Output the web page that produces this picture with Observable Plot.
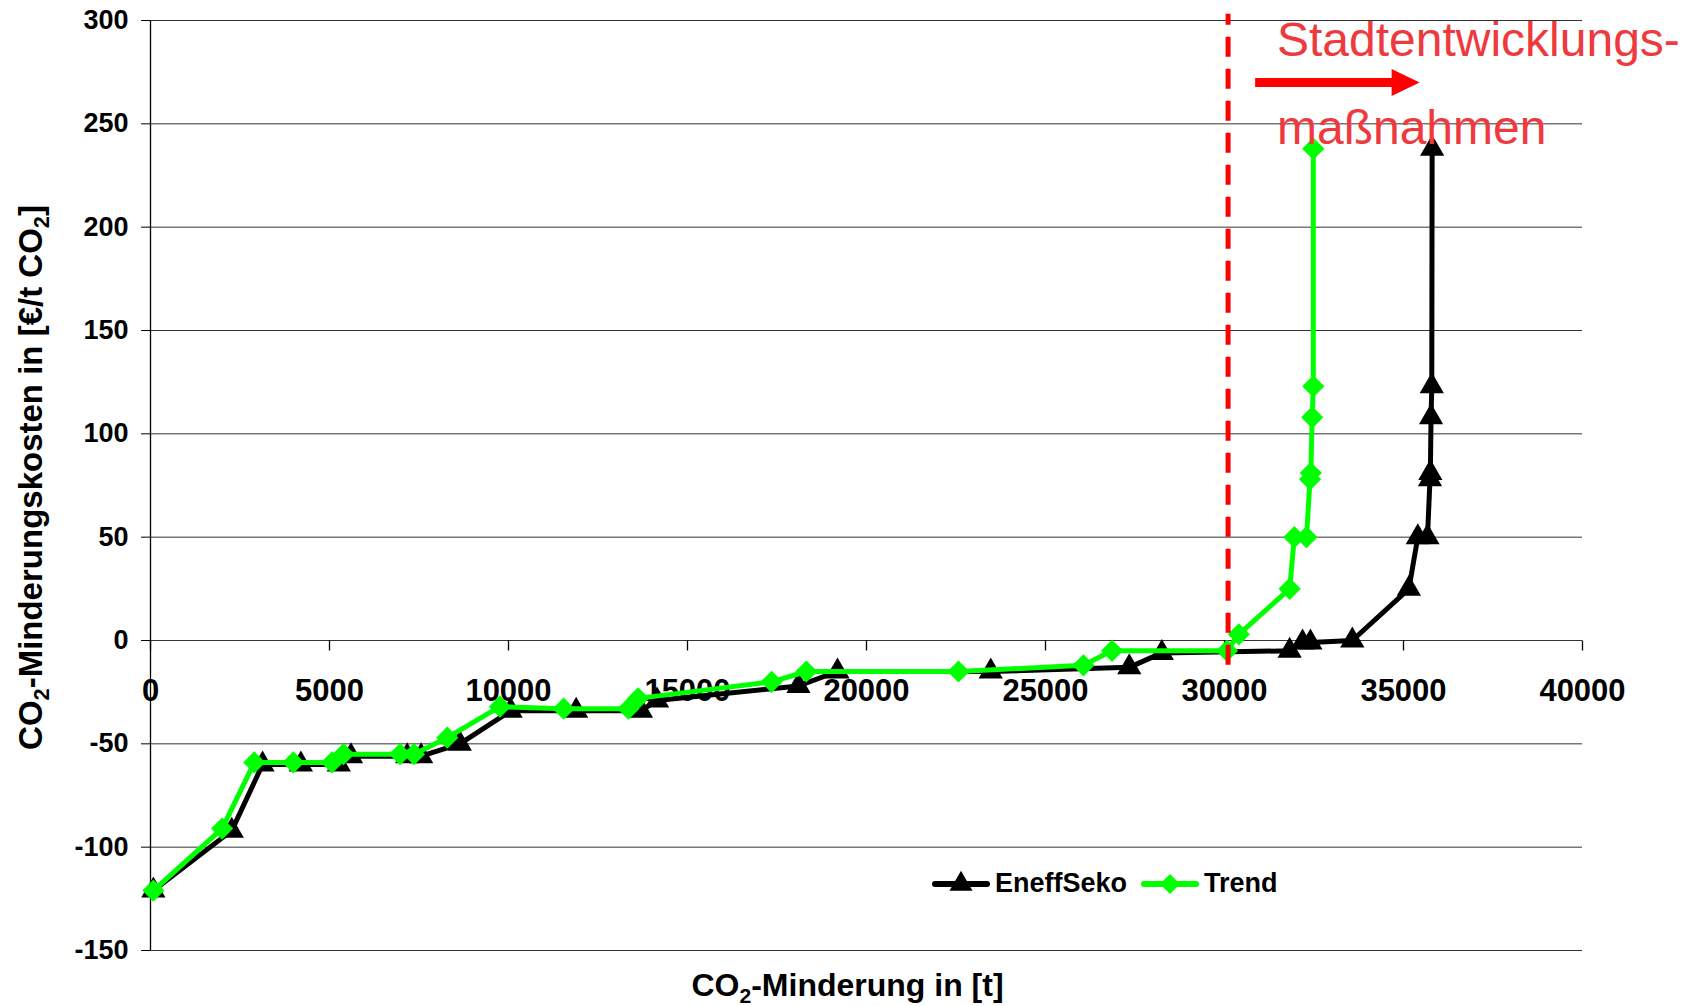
<!DOCTYPE html>
<html>
<head>
<meta charset="utf-8">
<script src="https://cdn.jsdelivr.net/npm/d3@7"></script>
<script src="https://cdn.jsdelivr.net/npm/@observablehq/plot@0.6"></script>
<style>
  html, body { margin: 0; padding: 0; background: #fff; }
  #wrap { position: relative; width: 1692px; height: 1006px; font-family: "Liberation Sans", Arial, Helvetica, sans-serif; }
  #legend { position: absolute; left: 932px; top: 868px; display: flex; align-items: center; font-weight: bold; font-size: 27px; color: #000; white-space: nowrap; }
  #legend svg { display: block; }
</style>
</head>
<body>
<div id="wrap"></div>
<script>
// ---- data ----
const eneffX = [80, 2270, 3130, 4200, 5260, 5600, 7170, 7560, 8640, 10060, 11890, 13700, 14150, 18100, 19190, 23470, 27340, 28250, 31820, 32180, 32400, 33570, 35150, 35400, 35670, 35740, 35750, 35770, 35790, 35800];
const eneffY = [-121, -92, -60, -60, -60, -56, -56, -56, -50, -34, -34, -34, -29, -22, -15, -15, -13, -6, -5, -1, -1, 0, 25, 50, 50, 78, 81, 108, 123, 238];
const trendX = [80, 2000, 2900, 3990, 5070, 5390, 6970, 7360, 8290, 9760, 11540, 13350, 13620, 17350, 18320, 22570, 26060, 26860, 30070, 30400, 31820, 31950, 32290, 32390, 32410, 32450, 32480, 32480];
const trendY = [-121, -91, -59, -59, -59, -55, -55, -55, -47, -32, -33, -33, -28, -20, -15, -15, -12, -5, -5, 3, 25, 50, 50, 78, 81, 108, 123, 238];
const seriesNames = ["EneffSeko", "Trend"];
const xTicks = [0, 5000, 10000, 15000, 20000, 25000, 30000, 35000, 40000];
const yTicks = [-150, -100, -50, 0, 50, 100, 150, 200, 250, 300];
const xTitle = "CO2-Minderung in [t]";
const yTitle = "CO2-Minderungskosten in [€/t CO2]";
const noteLines = ["Stadtentwicklungs-", "maßnahmen"];
const noteX = 31465;
const noteY = [282.7, 240.1];
const dividerX = 30100;
const dividerY = [-12, 303];
const arrowX = [30870, 35450];
const arrowY = 270;

// ---- build ----
const eneff = eneffX.map((x, i) => ({x, y: eneffY[i]}));
const trend = trendX.map((x, i) => ({x, y: trendY[i]}));
const BLACK = "#000000", GREEN = "#00ff00", RED = "#ff0000", NOTE = "#ee3a3e";

const tickDown = {draw(ctx) { ctx.moveTo(0, 0); ctx.lineTo(0, 10); }};
const arrowHead = {draw(ctx) { ctx.moveTo(0, 0); ctx.lineTo(-28, -13.5); ctx.lineTo(-28, 13.5); ctx.closePath(); }};

const chart = Plot.plot({
  width: 1692,
  height: 1006,
  marginLeft: 150,
  marginRight: 110,
  marginTop: 20,
  marginBottom: 56,
  x: {domain: [0, 40000], axis: null},
  y: {domain: [-150, 300]},
  style: {fontFamily: "Liberation Sans, Arial, Helvetica, sans-serif", color: "#000", background: "#fff", overflow: "visible"},
  marks: [
    Plot.gridY(yTicks, {stroke: "#333", strokeOpacity: 1, strokeWidth: 1}),
    Plot.axisY({ticks: yTicks, tickSize: 9, tickPadding: 13, tickFormat: d => String(d), fontSize: 27, fontWeight: "bold", label: null}),
    Plot.ruleX([0], {stroke: "#000", strokeWidth: 1.3}),
    Plot.dot(xTicks, {x: d => d, y: 0, symbol: tickDown, stroke: "#000", fill: "none", strokeWidth: 1.3}),
    Plot.text(xTicks, {x: d => d, y: 0, text: d => String(d), dy: 60, lineAnchor: "bottom", fontSize: 31, fontWeight: "bold", fill: "#000"}),
    Plot.line(eneff, {x: "x", y: "y", stroke: BLACK, strokeWidth: 5, strokeLinejoin: "round"}),
    Plot.dot(eneff, {x: "x", y: "y", symbol: "triangle", r: 9, fill: BLACK, stroke: "none"}),
    Plot.line(trend, {x: "x", y: "y", stroke: GREEN, strokeWidth: 5, strokeLinejoin: "round"}),
    Plot.dot(trend, {x: "x", y: "y", symbol: d3.symbolDiamond2, r: 10, fill: GREEN, stroke: "none"}),
    Plot.ruleX([dividerX], {x: d => d, y1: dividerY[0], y2: dividerY[1], stroke: RED, strokeWidth: 5, strokeDasharray: "20,12"}),
    Plot.ruleY([arrowY], {y: d => d, x1: arrowX[0], x2: arrowX[1], insetRight: 22, stroke: RED, strokeWidth: 9}),
    Plot.dot([arrowY], {x: arrowX[1], y: d => d, symbol: arrowHead, fill: RED, stroke: "none"}),
    Plot.text(noteLines, {x: noteX, y: (d, i) => noteY[i], text: d => d, textAnchor: "start", lineAnchor: "bottom", fontSize: 48, fill: NOTE}),
    Plot.text([xTitle], {frameAnchor: "bottom", text: d => d, textAnchor: "middle", dx: -19, dy: 45, lineAnchor: "bottom", fontSize: 32, fontWeight: "bold", fill: "#000"}),
    Plot.text([yTitle], {frameAnchor: "left", text: d => d, textAnchor: "middle", rotate: -90, dx: -119, dy: -8, lineAnchor: "middle", fontSize: 33, fontWeight: "bold", fill: "#000"})
  ]
});

// subscript the 2 of CO2 in the axis titles
d3.select(chart).selectAll("text").each(function() {
  const node = this;
  if (node.querySelector("tspan") || !node.textContent.includes("CO2")) return;
  const fs = parseFloat(d3.select(node.parentNode).attr("font-size")) || parseFloat(node.getAttribute("font-size")) || 32;
  const shift = fs * 0.22;
  const parts = node.textContent.split("CO2");
  node.textContent = "";
  const t = d3.select(node);
  let up = false;
  parts.forEach((p, i) => {
    if (i > 0) {
      const co = t.append("tspan").text("CO");
      if (up) { co.attr("dy", -shift); up = false; }
      t.append("tspan").text("2").attr("font-size", fs * 0.66).attr("dy", shift);
      up = true;
    }
    if (p.length) {
      const ts = t.append("tspan").text(p);
      if (up) { ts.attr("dy", -shift); up = false; }
    }
  });
});

const wrap = document.getElementById("wrap");
wrap.appendChild(chart);

// legend (inside the plot area, as in the reference)
const legend = d3.select(wrap).append("div").attr("id", "legend");
const legendSpec = [
  {name: seriesNames[0], color: BLACK, symbol: d3.symbolTriangle, size: 231},
  {name: seriesNames[1], color: GREEN, symbol: d3.symbolDiamond2, size: 255}
];
legendSpec.forEach((s, i) => {
  const sw = legend.append("svg").attr("width", 58).attr("height", 28).style("margin-left", i ? "14px" : "0px");
  sw.append("line").attr("x1", 3).attr("x2", 55).attr("y1", 14).attr("y2", 14)
    .attr("stroke", s.color).attr("stroke-width", 6).attr("stroke-linecap", "round");
  sw.append("path").attr("d", d3.symbol(s.symbol, s.size)()).attr("transform", "translate(29,14)").attr("fill", s.color);
  legend.append("span").text(s.name).style("margin-left", "5px");
});
</script>
</body>
</html>
